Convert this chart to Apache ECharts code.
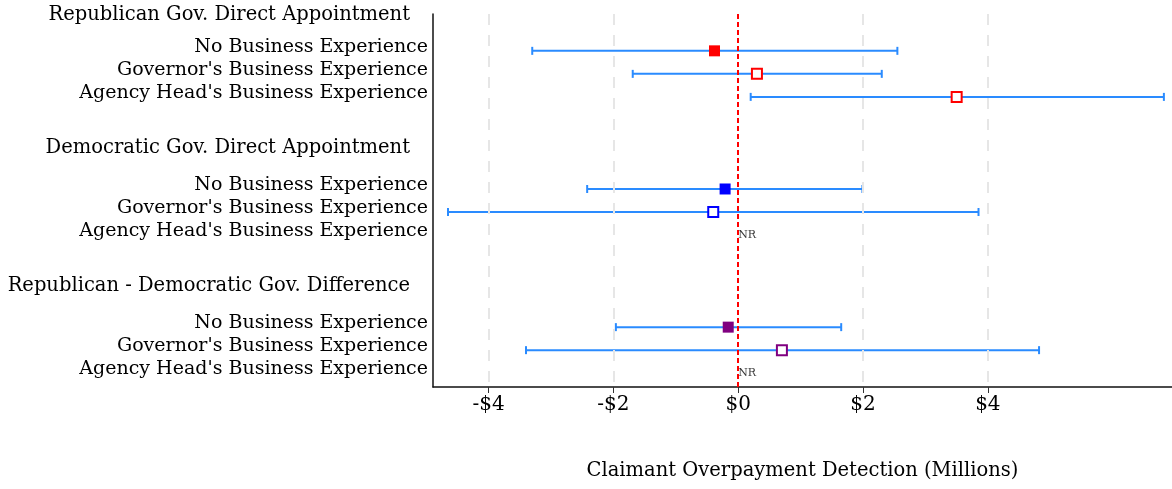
<!DOCTYPE html>
<html>
<head>
<meta charset="utf-8">
<script src="https://cdn.jsdelivr.net/npm/echarts@6/dist/echarts.min.js"></script>
<style>
  html, body { margin: 0; padding: 0; background: #fff; }
  #chart { width: 1172px; height: 489px; }
</style>
</head>
<body>
<div id="chart"></div>
<script>
// group headings and rows
const groups = ['Republican Gov. Direct Appointment', 'Democratic Gov. Direct Appointment', 'Republican - Democratic Gov. Difference'];
const rows = ['No Business Experience', "Governor's Business Experience", "Agency Head's Business Experience"];

// point estimates and 95% intervals (millions), null = not reported
const estimates = [[-0.38, 0.30, 3.50], [-0.21, -0.40, null], [-0.16, 0.70, null]];
const lowers = [[-3.30, -1.69, 0.20], [-2.42, -4.65, null], [-1.96, -3.40, null]];
const uppers = [[2.55, 2.30, 6.82], [1.99, 3.85, null], [1.65, 4.82, null]];

const xTicks = [-4, -2, 0, 2, 4];

const groupColors = ['#ff0000', '#0000ff', '#800080'];
const ciColor = '#2a8bff';
const font = 'DejaVu Serif';

// vertical layout: each group takes 6 slots, heading sits above its rows
const rowPos = (g, r) => g * 6 + r + 1;
const headPos = [-0.55, 5.2, 11.2];

const labelMap = {};
const yLabelValues = [];
groups.forEach((name, g) => {
  labelMap[headPos[g].toFixed(2)] = '{h|' + name + '}';
  yLabelValues.push(headPos[g]);
  rows.forEach((r, i) => {
    labelMap[rowPos(g, i).toFixed(2)] = '{r|' + r + '}';
    yLabelValues.push(rowPos(g, i));
  });
});

const ciData = [];
const pointData = [];
const nrData = [];
groups.forEach((name, g) => {
  rows.forEach((r, i) => {
    const y = rowPos(g, i);
    if (estimates[g][i] === null) {
      nrData.push([0, y]);
      return;
    }
    ciData.push([lowers[g][i], uppers[g][i], y]);
    const filled = i === 0;
    pointData.push({
      value: [estimates[g][i], y],
      symbolSize: filled ? 11 : 10,
      itemStyle: {
        color: filled ? groupColors[g] : '#fff',
        borderColor: groupColors[g],
        borderWidth: filled ? 0 : 2,
        opacity: 1
      }
    });
  });
});

const chart = echarts.init(document.getElementById('chart'));

const option = {
  animation: false,
  textStyle: { fontFamily: font },
  grid: { left: 433, right: 0, top: 14, bottom: 102, outerBoundsMode: 'none' },
  xAxis: {
    type: 'value',
    min: -4.89,
    max: 6.95,
    name: 'Claimant Overpayment Detection (Millions)',
    nameLocation: 'middle',
    nameGap: 74,
    nameTextStyle: { fontFamily: font, fontSize: 19.5, color: '#000' },
    axisLine: { onZero: false, lineStyle: { color: '#111', width: 1.5 } },
    axisTick: { customValues: xTicks, length: 6, lineStyle: { color: '#333' } },
    axisLabel: {
      customValues: xTicks,
      fontFamily: font,
      fontSize: 20,
      color: '#000',
      margin: 8,
      formatter: v => (v < 0 ? '-$' : '$') + Math.abs(v)
    },
    splitLine: { show: false }
  },
  yAxis: {
    type: 'value',
    inverse: true,
    min: -0.6,
    max: 15.6,
    axisLine: { show: true, onZero: false, lineStyle: { color: '#111', width: 1.5 } },
    axisTick: { show: false },
    splitLine: { show: false },
    axisLabel: {
      customValues: yLabelValues,
      margin: 5,
      formatter: v => labelMap[v.toFixed(2)] || '',
      rich: {
        h: { fontFamily: font, fontSize: 19.5, color: '#000', padding: [0, 18, 0, 0] },
        r: { fontFamily: font, fontSize: 19, color: '#000', padding: [0, 0, 8, 0] }
      }
    }
  },
  series: [
    {
      // reference grid lines and zero line
      type: 'scatter',
      data: [],
      z: 1,
      markLine: {
        silent: true,
        symbol: 'none',
        label: { show: false },
        data: xTicks.map(v => ({
          xAxis: v,
          lineStyle: v === 0
            ? { color: '#ff0000', type: [5, 3], width: 2, opacity: 1 }
            : { color: '#e6e6e6', type: [11, 10], width: 2, opacity: 1 }
        }))
      }
    },
    {
      type: 'custom',
      z: 3,
      data: ciData,
      renderItem: function (params, api) {
        const y = api.value(2);
        const a = api.coord([api.value(0), y]);
        const b = api.coord([api.value(1), y]);
        const st = { stroke: ciColor, lineWidth: 2 };
        return {
          type: 'group',
          children: [
            { type: 'line', shape: { x1: a[0], y1: a[1], x2: b[0], y2: b[1] }, style: st },
            { type: 'line', shape: { x1: a[0], y1: a[1] - 4, x2: a[0], y2: a[1] + 4 }, style: st },
            { type: 'line', shape: { x1: b[0], y1: b[1] - 4, x2: b[0], y2: b[1] + 4 }, style: st }
          ]
        };
      }
    },
    {
      type: 'scatter',
      symbol: 'rect',
      z: 5,
      data: pointData
    },
    {
      type: 'scatter',
      symbolSize: 0,
      z: 5,
      data: nrData,
      label: {
        show: true,
        position: 'right',
        distance: 0,
        formatter: 'NR',
        fontFamily: font,
        fontSize: 11,
        color: '#000'
      }
    }
  ]
};

chart.setOption(option);
</script>
</body>
</html>
